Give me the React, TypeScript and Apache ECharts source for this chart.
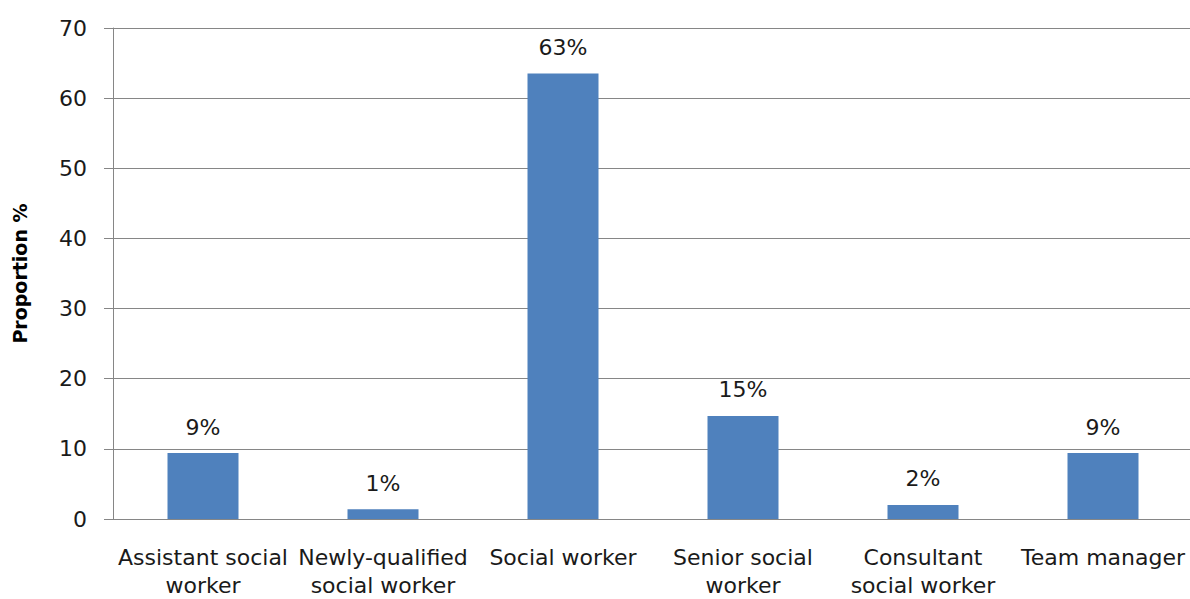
import React, { useEffect, useRef } from "react";
import * as echarts from "echarts";

const categories = [
  "Assistant social\nworker",
  "Newly-qualified\nsocial worker",
  "Social worker",
  "Senior social\nworker",
  "Consultant\nsocial worker",
  "Team manager",
];
const values = [9.4, 1.4, 63.5, 14.7, 2.0, 9.4];
const barLabels = ["9%", "1%", "63%", "15%", "2%", "9%"];
const yTicks = [0, 10, 20, 30, 40, 50, 60, 70];

const FONT = "DejaVu Sans";

export default function App() {
  const ref = useRef<HTMLDivElement>(null);
  useEffect(() => {
    if (!ref.current) return;
    const chart = echarts.init(ref.current, null, { renderer: "svg" });
    chart.setOption({
      animation: false,
      backgroundColor: "#ffffff",
      grid: {
        left: 113,
        top: 28,
        width: 1080,
        height: 491,
        containLabel: false,
        outerBoundsMode: "none",
      },
      xAxis: {
        type: "category",
        data: categories,
        axisLine: { show: true, lineStyle: { color: "#868686", width: 1 } },
        axisTick: { show: false },
        axisLabel: {
          color: "#1a1a1a",
          fontFamily: FONT,
          fontSize: 22,
          lineHeight: 28,
          margin: 24,
          interval: 0,
        },
      },
      yAxis: {
        type: "value",
        min: yTicks[0],
        max: yTicks[yTicks.length - 1],
        interval: 10,
        name: "Proportion %",
        nameLocation: "middle",
        nameGap: 84,
        nameRotate: 90,
        nameTextStyle: {
          color: "#000000",
          fontFamily: FONT,
          fontSize: 19,
          fontWeight: "bold",
        },
        axisLine: { show: true, lineStyle: { color: "#868686", width: 1 } },
        axisTick: { show: true, length: 9, lineStyle: { color: "#868686" } },
        splitLine: { show: true, lineStyle: { color: "#868686", width: 1 } },
        axisLabel: {
          color: "#1a1a1a",
          fontFamily: FONT,
          fontSize: 22,
          margin: 26,
        },
      },
      series: [
        {
          type: "bar",
          data: values,
          barWidth: 71,
          itemStyle: { color: "#4F81BD" },
          label: {
            show: true,
            position: "top",
            distance: 15,
            color: "#1a1a1a",
            fontFamily: FONT,
            fontSize: 22,
            formatter: (p: any) => barLabels[p.dataIndex],
          },
        },
      ],
    });
    return () => chart.dispose();
  }, []);
  return (
    <div
      ref={ref}
      style={{ position: "fixed", left: 0, top: 0, width: 1190, height: 599, background: "#fff" }}
    />
  );
}
